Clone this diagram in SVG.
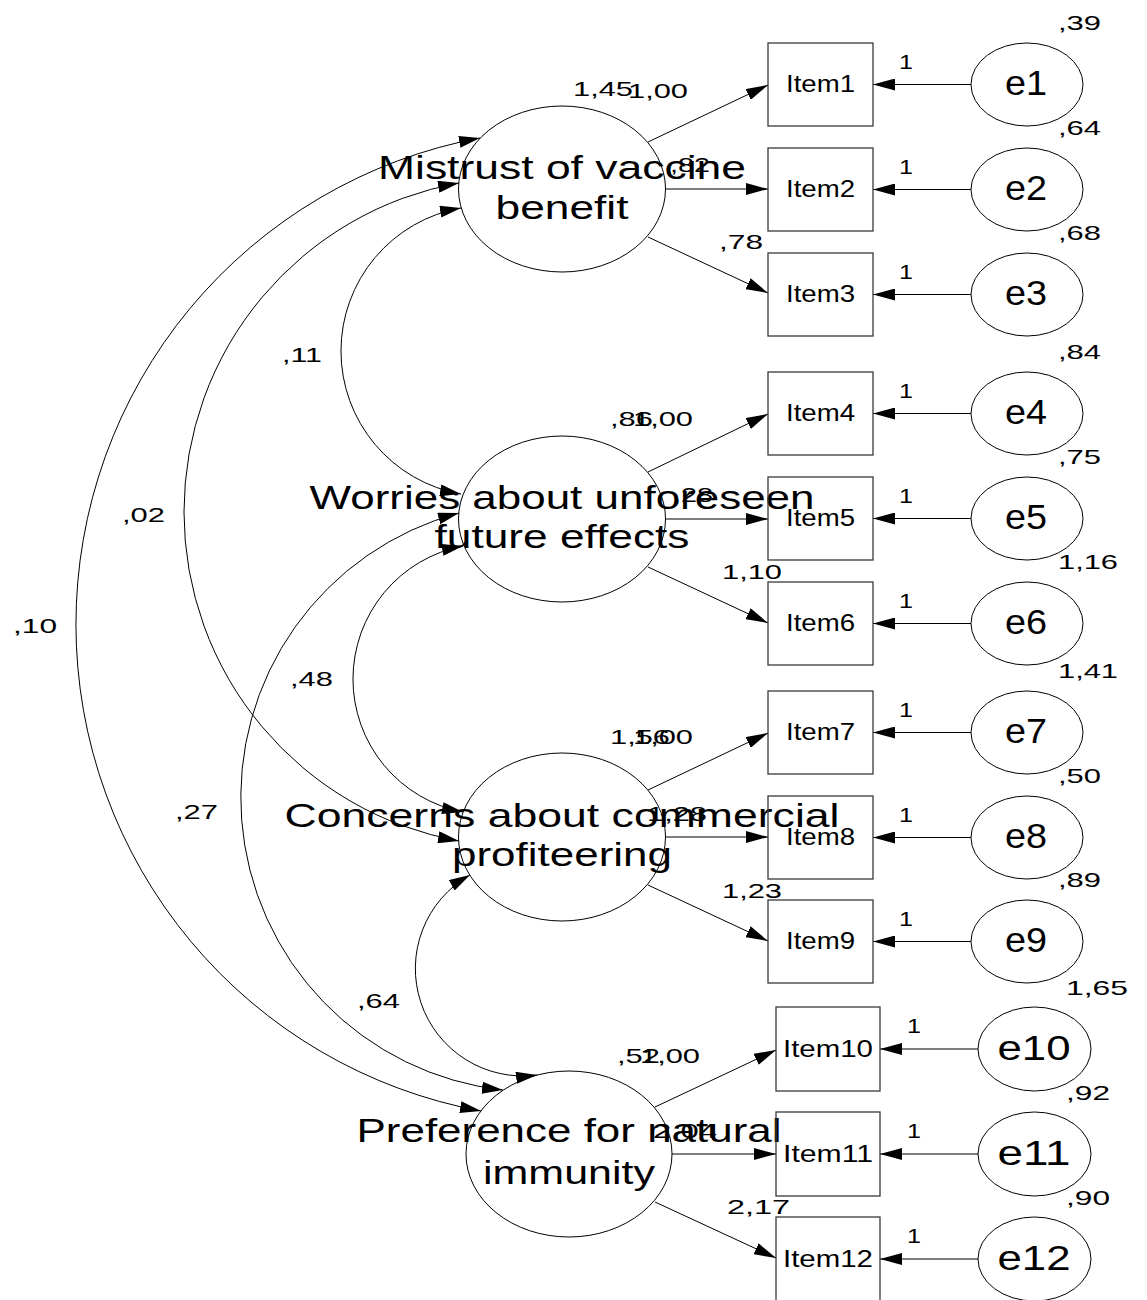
<svg xmlns="http://www.w3.org/2000/svg" width="1147" height="1300" viewBox="0 0 1147 1300">
<style>
text{font-family:"Liberation Sans",Arial,sans-serif;fill:#000}
.lat{fill:none;stroke:#000;stroke-width:1}
.box{fill:none;stroke:#3a3a3a;stroke-width:1.3}
.err{fill:none;stroke:#000;stroke-width:1}
.ln{fill:none;stroke:#000;stroke-width:1}
.arr{marker-end:url(#ah)}
.cov{fill:none;stroke:#000;stroke-width:1;marker-start:url(#ah2);marker-end:url(#ah2)}
.lt{font-size:33px;text-anchor:middle}
.it{font-size:23px;text-anchor:middle}
.et{font-size:35px;text-anchor:middle}
.nm{font-size:21px}
</style>
<defs>
<marker id="ah" markerUnits="userSpaceOnUse" markerWidth="22" markerHeight="12" refX="22" refY="6" orient="auto"><path d="M0,0 L22,6 L0,12 z" fill="#000"/></marker>
<marker id="ah2" markerUnits="userSpaceOnUse" markerWidth="21" markerHeight="12" refX="21" refY="6" orient="auto-start-reverse"><path d="M0,0 L21,6 L0,12 z" fill="#000"/></marker>
</defs>

<g id="connectors">
<path class="cov" d="M461,208 A145.2,145.2 0 0 0 461,494"/>
<path class="cov" d="M459,183 A334.3,334.3 0 0 0 459,841"/>
<path class="cov" d="M480,138 A494.8,494.8 0 0 0 481,1111"/>
<path class="cov" d="M459,513 A294.4,294.4 0 0 0 503,1090"/>
<path class="cov" d="M463,546 A135.4,135.4 0 0 0 463,812"/>
<path class="cov" d="M470,875 A107.4,107.4 0 0 0 537,1075"/>
<line class="ln arr" x1="648" y1="142" x2="768" y2="85"/>
<line class="ln arr" x1="666" y1="189" x2="768" y2="189"/>
<line class="ln arr" x1="648" y1="237" x2="768" y2="293"/>
<line class="ln arr" x1="648" y1="472" x2="768" y2="414"/>
<line class="ln arr" x1="666" y1="519" x2="768" y2="519"/>
<line class="ln arr" x1="648" y1="567" x2="768" y2="623"/>
<line class="ln arr" x1="648" y1="790" x2="768" y2="733"/>
<line class="ln arr" x1="666" y1="837" x2="768" y2="837"/>
<line class="ln arr" x1="648" y1="885" x2="768" y2="941"/>
<line class="ln arr" x1="655" y1="1107" x2="776" y2="1050"/>
<line class="ln arr" x1="672" y1="1154" x2="776" y2="1154"/>
<line class="ln arr" x1="655" y1="1202" x2="776" y2="1258"/>
<line class="ln arr" x1="971" y1="84.5" x2="873" y2="84.5"/>
<line class="ln arr" x1="971" y1="189.5" x2="873" y2="189.5"/>
<line class="ln arr" x1="971" y1="294.5" x2="873" y2="294.5"/>
<line class="ln arr" x1="971" y1="413.5" x2="873" y2="413.5"/>
<line class="ln arr" x1="971" y1="518.5" x2="873" y2="518.5"/>
<line class="ln arr" x1="971" y1="623.5" x2="873" y2="623.5"/>
<line class="ln arr" x1="971" y1="732.5" x2="873" y2="732.5"/>
<line class="ln arr" x1="971" y1="837.5" x2="873" y2="837.5"/>
<line class="ln arr" x1="971" y1="941.5" x2="873" y2="941.5"/>
<line class="ln arr" x1="978" y1="1049" x2="880" y2="1049"/>
<line class="ln arr" x1="978" y1="1154" x2="880" y2="1154"/>
<line class="ln arr" x1="978" y1="1259" x2="880" y2="1259"/>
<text class="nm" x="282" y="362" textLength="40" lengthAdjust="spacingAndGlyphs">,11</text>
<text class="nm" x="122" y="522" textLength="43" lengthAdjust="spacingAndGlyphs">,02</text>
<text class="nm" x="13" y="633" textLength="44" lengthAdjust="spacingAndGlyphs">,10</text>
<text class="nm" x="290" y="686" textLength="43" lengthAdjust="spacingAndGlyphs">,48</text>
<text class="nm" x="175" y="819" textLength="43" lengthAdjust="spacingAndGlyphs">,27</text>
<text class="nm" x="357" y="1008" textLength="43" lengthAdjust="spacingAndGlyphs">,64</text>

<text class="nm" x="628" y="98" textLength="60" lengthAdjust="spacingAndGlyphs">1,00</text>
<text class="nm" x="670" y="172" textLength="40" lengthAdjust="spacingAndGlyphs">,82</text>
<text class="nm" x="719" y="249" textLength="44" lengthAdjust="spacingAndGlyphs">,78</text>
<text class="nm" x="633" y="426" textLength="60" lengthAdjust="spacingAndGlyphs">1,00</text>
<text class="nm" x="673" y="502" textLength="40" lengthAdjust="spacingAndGlyphs">,28</text>
<text class="nm" x="722" y="579" textLength="60" lengthAdjust="spacingAndGlyphs">1,10</text>
<text class="nm" x="633" y="744" textLength="60" lengthAdjust="spacingAndGlyphs">1,00</text>
<text class="nm" x="647" y="821" textLength="60" lengthAdjust="spacingAndGlyphs">1,28</text>
<text class="nm" x="722" y="898" textLength="60" lengthAdjust="spacingAndGlyphs">1,23</text>
<text class="nm" x="640" y="1063" textLength="60" lengthAdjust="spacingAndGlyphs">1,00</text>
<text class="nm" x="653" y="1138" textLength="64" lengthAdjust="spacingAndGlyphs">2,04</text>
<text class="nm" x="727" y="1214" textLength="63" lengthAdjust="spacingAndGlyphs">2,17</text>

<text class="nm" x="899" y="69" textLength="14" lengthAdjust="spacingAndGlyphs">1</text>
<text class="nm" x="899" y="174" textLength="14" lengthAdjust="spacingAndGlyphs">1</text>
<text class="nm" x="899" y="279" textLength="14" lengthAdjust="spacingAndGlyphs">1</text>
<text class="nm" x="899" y="398" textLength="14" lengthAdjust="spacingAndGlyphs">1</text>
<text class="nm" x="899" y="503" textLength="14" lengthAdjust="spacingAndGlyphs">1</text>
<text class="nm" x="899" y="608" textLength="14" lengthAdjust="spacingAndGlyphs">1</text>
<text class="nm" x="899" y="717" textLength="14" lengthAdjust="spacingAndGlyphs">1</text>
<text class="nm" x="899" y="822" textLength="14" lengthAdjust="spacingAndGlyphs">1</text>
<text class="nm" x="899" y="926" textLength="14" lengthAdjust="spacingAndGlyphs">1</text>
<text class="nm" x="907" y="1033" textLength="14" lengthAdjust="spacingAndGlyphs">1</text>
<text class="nm" x="907" y="1138" textLength="14" lengthAdjust="spacingAndGlyphs">1</text>
<text class="nm" x="907" y="1243" textLength="14" lengthAdjust="spacingAndGlyphs">1</text>
</g>

<g id="L1">
<ellipse class="lat" cx="562" cy="189" rx="103.5" ry="83"/>
<text class="lt" x="562" y="179" textLength="368" lengthAdjust="spacingAndGlyphs">Mistrust of vaccine</text>
<text class="lt" x="562" y="219" textLength="133" lengthAdjust="spacingAndGlyphs">benefit</text>
<text class="nm" x="573" y="96" textLength="60" lengthAdjust="spacingAndGlyphs">1,45</text>
</g>
<g id="L2">
<ellipse class="lat" cx="562" cy="519" rx="103.5" ry="83"/>
<text class="lt" x="562" y="509" textLength="505" lengthAdjust="spacingAndGlyphs">Worries about unforeseen</text>
<text class="lt" x="562" y="548" textLength="255" lengthAdjust="spacingAndGlyphs">future effects</text>
<text class="nm" x="610" y="426" textLength="43" lengthAdjust="spacingAndGlyphs">,86</text>
</g>
<g id="L3">
<ellipse class="lat" cx="562" cy="837" rx="103.5" ry="84"/>
<text class="lt" x="562" y="827" textLength="555" lengthAdjust="spacingAndGlyphs">Concerns about commercial</text>
<text class="lt" x="562" y="866" textLength="220" lengthAdjust="spacingAndGlyphs">profiteering</text>
<text class="nm" x="610" y="744" textLength="60" lengthAdjust="spacingAndGlyphs">1,56</text>
</g>
<g id="L4">
<ellipse class="lat" cx="569" cy="1154" rx="103" ry="83"/>
<text class="lt" x="569" y="1142" textLength="425" lengthAdjust="spacingAndGlyphs">Preference for natural</text>
<text class="lt" x="569" y="1184" textLength="172" lengthAdjust="spacingAndGlyphs">immunity</text>
<text class="nm" x="617" y="1063" textLength="43" lengthAdjust="spacingAndGlyphs">,52</text>
</g>

<g id="Item1"><rect class="box" x="768" y="43" width="105" height="83"/><text class="it" x="820.5" y="92" textLength="69" lengthAdjust="spacingAndGlyphs">Item1</text></g>
<g id="Item2"><rect class="box" x="768" y="148" width="105" height="83"/><text class="it" x="820.5" y="197" textLength="69" lengthAdjust="spacingAndGlyphs">Item2</text></g>
<g id="Item3"><rect class="box" x="768" y="253" width="105" height="83"/><text class="it" x="820.5" y="302" textLength="69" lengthAdjust="spacingAndGlyphs">Item3</text></g>
<g id="Item4"><rect class="box" x="768" y="372" width="105" height="83"/><text class="it" x="820.5" y="421" textLength="69" lengthAdjust="spacingAndGlyphs">Item4</text></g>
<g id="Item5"><rect class="box" x="768" y="477" width="105" height="83"/><text class="it" x="820.5" y="526" textLength="69" lengthAdjust="spacingAndGlyphs">Item5</text></g>
<g id="Item6"><rect class="box" x="768" y="582" width="105" height="83"/><text class="it" x="820.5" y="631" textLength="69" lengthAdjust="spacingAndGlyphs">Item6</text></g>
<g id="Item7"><rect class="box" x="768" y="691" width="105" height="83"/><text class="it" x="820.5" y="740" textLength="69" lengthAdjust="spacingAndGlyphs">Item7</text></g>
<g id="Item8"><rect class="box" x="768" y="796" width="105" height="83"/><text class="it" x="820.5" y="845" textLength="69" lengthAdjust="spacingAndGlyphs">Item8</text></g>
<g id="Item9"><rect class="box" x="768" y="900" width="105" height="83"/><text class="it" x="820.5" y="949" textLength="69" lengthAdjust="spacingAndGlyphs">Item9</text></g>
<g id="Item10"><rect class="box" x="776" y="1007" width="104" height="84"/><text class="it" x="828" y="1057" textLength="90" lengthAdjust="spacingAndGlyphs">Item10</text></g>
<g id="Item11"><rect class="box" x="776" y="1112" width="104" height="84"/><text class="it" x="828" y="1162" textLength="90" lengthAdjust="spacingAndGlyphs">Item11</text></g>
<g id="Item12"><rect class="box" x="776" y="1217" width="104" height="84"/><text class="it" x="828" y="1267" textLength="90" lengthAdjust="spacingAndGlyphs">Item12</text></g>

<g id="e1"><ellipse class="err" cx="1027" cy="84.5" rx="56" ry="41.5"/><text class="et" x="1026" y="95" textLength="42" lengthAdjust="spacingAndGlyphs">e1</text><text class="nm" x="1058" y="30" textLength="43" lengthAdjust="spacingAndGlyphs">,39</text></g>
<g id="e2"><ellipse class="err" cx="1027" cy="189.5" rx="56" ry="41.5"/><text class="et" x="1026" y="200" textLength="42" lengthAdjust="spacingAndGlyphs">e2</text><text class="nm" x="1058" y="135" textLength="43" lengthAdjust="spacingAndGlyphs">,64</text></g>
<g id="e3"><ellipse class="err" cx="1027" cy="294.5" rx="56" ry="41.5"/><text class="et" x="1026" y="305" textLength="42" lengthAdjust="spacingAndGlyphs">e3</text><text class="nm" x="1058" y="240" textLength="43" lengthAdjust="spacingAndGlyphs">,68</text></g>
<g id="e4"><ellipse class="err" cx="1027" cy="413.5" rx="56" ry="41.5"/><text class="et" x="1026" y="424" textLength="42" lengthAdjust="spacingAndGlyphs">e4</text><text class="nm" x="1058" y="359" textLength="43" lengthAdjust="spacingAndGlyphs">,84</text></g>
<g id="e5"><ellipse class="err" cx="1027" cy="518.5" rx="56" ry="41.5"/><text class="et" x="1026" y="529" textLength="42" lengthAdjust="spacingAndGlyphs">e5</text><text class="nm" x="1058" y="464" textLength="43" lengthAdjust="spacingAndGlyphs">,75</text></g>
<g id="e6"><ellipse class="err" cx="1027" cy="623.5" rx="56" ry="41.5"/><text class="et" x="1026" y="634" textLength="42" lengthAdjust="spacingAndGlyphs">e6</text><text class="nm" x="1058" y="569" textLength="60" lengthAdjust="spacingAndGlyphs">1,16</text></g>
<g id="e7"><ellipse class="err" cx="1027" cy="732.5" rx="56" ry="41.5"/><text class="et" x="1026" y="743" textLength="42" lengthAdjust="spacingAndGlyphs">e7</text><text class="nm" x="1058" y="678" textLength="60" lengthAdjust="spacingAndGlyphs">1,41</text></g>
<g id="e8"><ellipse class="err" cx="1027" cy="837.5" rx="56" ry="41.5"/><text class="et" x="1026" y="848" textLength="42" lengthAdjust="spacingAndGlyphs">e8</text><text class="nm" x="1058" y="783" textLength="43" lengthAdjust="spacingAndGlyphs">,50</text></g>
<g id="e9"><ellipse class="err" cx="1027" cy="941.5" rx="56" ry="41.5"/><text class="et" x="1026" y="952" textLength="42" lengthAdjust="spacingAndGlyphs">e9</text><text class="nm" x="1058" y="887" textLength="43" lengthAdjust="spacingAndGlyphs">,89</text></g>
<g id="e10"><ellipse class="err" cx="1034.5" cy="1049" rx="56.5" ry="42"/><text class="et" x="1034" y="1060" textLength="73" lengthAdjust="spacingAndGlyphs">e10</text><text class="nm" x="1066" y="995" textLength="62" lengthAdjust="spacingAndGlyphs">1,65</text></g>
<g id="e11"><ellipse class="err" cx="1034.5" cy="1154" rx="56.5" ry="42"/><text class="et" x="1034" y="1165" textLength="73" lengthAdjust="spacingAndGlyphs">e11</text><text class="nm" x="1066" y="1100" textLength="44" lengthAdjust="spacingAndGlyphs">,92</text></g>
<g id="e12"><ellipse class="err" cx="1034.5" cy="1259" rx="56.5" ry="42"/><text class="et" x="1034" y="1270" textLength="73" lengthAdjust="spacingAndGlyphs">e12</text><text class="nm" x="1066" y="1205" textLength="44" lengthAdjust="spacingAndGlyphs">,90</text></g>
</svg>
